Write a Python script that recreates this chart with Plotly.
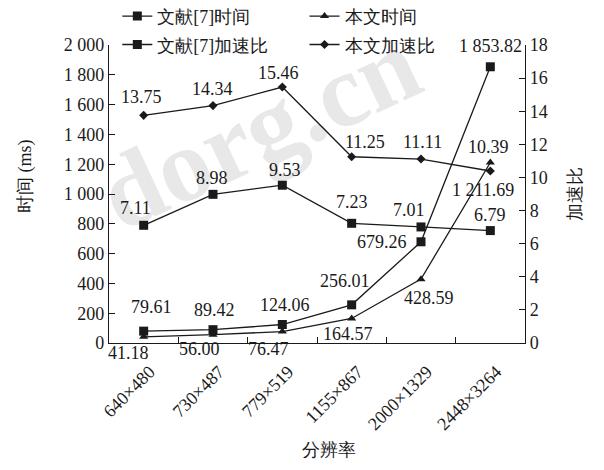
import plotly.graph_objects as go

# Image resolutions (x categories)
resolutions = ["640×480", "730×487", "779×519", "1155×867", "2000×1329", "2448×3264"]

# Running time (ms), left axis
ref7_time = [79.61, 89.42, 124.06, 256.01, 679.26, 1853.82]
our_time = [41.18, 56.00, 76.47, 164.57, 428.59, 1211.69]

# Speed-up ratio, right axis
ref7_speedup = [7.11, 8.98, 9.53, 7.23, 7.01, 6.79]
our_speedup = [13.75, 14.34, 15.46, 11.25, 11.11, 10.39]

# Axis ticks
time_ticks = [0, 200, 400, 600, 800, 1000, 1200, 1400, 1600, 1800, 2000]
speed_ticks = [0, 2, 4, 6, 8, 10, 12, 14, 16, 18]

FONT = "Times New Roman, Liberation Serif, Tinos, DejaVu Serif, serif"
BLACK = "#1a1a1a"


def fmt(v, decimals=2):
    return f"{v:,.{decimals}f}".replace(",", " ")


fig = go.Figure()

series = [
    ("文献[7]时间", ref7_time, "y", "square", 9, "legend"),
    ("本文时间", our_time, "y", "triangle-up", 8, "legend2"),
    ("文献[7]加速比", ref7_speedup, "y2", "square", 9, "legend"),
    ("本文加速比", our_speedup, "y2", "diamond", 7, "legend2"),
]
for i, (name, vals, yax, sym, size, leg) in enumerate(series):
    fig.add_trace(go.Scatter(
        x=resolutions, y=vals, name=name, yaxis=yax,
        mode="lines+markers",
        line=dict(color=BLACK, width=1.3),
        marker=dict(symbol=sym, size=size, color=BLACK),
        legend=leg, legendgroup=f"g{i}",
    ))

# value-label offsets in pixels (dx, dy) for each series
label_offsets = {
    0: [(8, 24), (1, 20), (3, 20), (-7, 24), (-39, 0), (0, 21)],
    1: [(-15, -16), (-14, -14), (-14, -17), (-4, -16), (8, -19), (-7, -28)],
    2: [(-8, 17), (-1, 16), (3, 15), (0, 21), (-12, 17), (0, 16)],
    3: [(-2, 18), (-1, 17), (-4, 14), (13, 15), (1, 17), (-2, 24)],
}
annotations = []
for i, (name, vals, yax, sym, size, leg) in enumerate(series):
    for j, v in enumerate(vals):
        dx, dy = label_offsets[i][j]
        annotations.append(dict(
            x=resolutions[j], y=v, xref="x", yref=yax,
            text=fmt(v), showarrow=False,
            xshift=dx, yshift=dy,
            font=dict(family=FONT, size=18, color=BLACK),
        ))

# axis titles
annotations += [
    dict(text="时间 (ms)", xref="paper", yref="paper", x=-0.202, y=0.56,
         xanchor="center", yanchor="middle",
         textangle=-90, showarrow=False, font=dict(family=FONT, size=18, color=BLACK)),
    dict(text="加速比", xref="paper", yref="paper", x=1.12, y=0.5,
         xanchor="center", yanchor="middle",
         textangle=-90, showarrow=False, font=dict(family=FONT, size=18, color=BLACK)),
    dict(text="分辨率", xref="paper", yref="paper", x=0.53, y=-0.36,
         xanchor="center", yanchor="middle",
         showarrow=False, font=dict(family=FONT, size=18, color=BLACK)),
]

# faint site watermark behind the data
watermark = dict(
    type="rect", xref="paper", yref="paper",
    x0=-0.2, x1=0.9, y0=0.5, y1=1.0, layer="below",
    line=dict(width=0), fillcolor="rgba(0,0,0,0)",
    label=dict(text="<b>dorg.cn</b>", textangle=-25, textposition="middle center",
               font=dict(family=FONT, size=104,
                         color="rgba(150,150,150,0.22)")),
)

fig.update_layout(
    width=604, height=470,
    margin=dict(l=109, r=79, t=45, b=127, autoexpand=False),
    paper_bgcolor="white", plot_bgcolor="white",
    font=dict(family=FONT, size=18, color=BLACK),
    showlegend=True,
    annotations=annotations,
    shapes=[watermark],
    xaxis=dict(
        type="category", showgrid=False, zeroline=False,
        showline=True, linecolor=BLACK, linewidth=1.3,
        ticks="inside", tickson="boundaries", ticklen=6, tickcolor=BLACK,
        tickangle=-45, tickfont=dict(family=FONT, size=18, color=BLACK),
        ticklabelstandoff=10, ticklabelshift=6,
        range=[-0.5, 5.5],
    ),
    yaxis=dict(
        range=[0, 2000], tickvals=time_ticks,
        ticktext=[fmt(t, 0) for t in time_ticks],
        showgrid=False, zeroline=False,
        showline=True, linecolor=BLACK, linewidth=1.3,
        ticks="inside", ticklen=6, tickcolor=BLACK,
        tickfont=dict(family=FONT, size=18, color=BLACK),
    ),
    yaxis2=dict(
        range=[0, 18], tickvals=speed_ticks,
        overlaying="y", side="right",
        showgrid=False, zeroline=False,
        showline=True, linecolor=BLACK, linewidth=1.3,
        ticks="inside", ticklen=6, tickcolor=BLACK,
        tickfont=dict(family=FONT, size=18, color=BLACK),
    ),
    legend=dict(
        x=0.02, y=1.158, xanchor="left", yanchor="top",
        orientation="v", bgcolor="rgba(0,0,0,0)",
        itemwidth=30, tracegroupgap=2,
        font=dict(family=FONT, size=18, color=BLACK),
    ),
    legend2=dict(
        x=0.47, y=1.158, xanchor="left", yanchor="top",
        orientation="v", bgcolor="rgba(0,0,0,0)",
        itemwidth=30, tracegroupgap=2,
        font=dict(family=FONT, size=18, color=BLACK),
    ),
)

fig.write_html("out.html")
